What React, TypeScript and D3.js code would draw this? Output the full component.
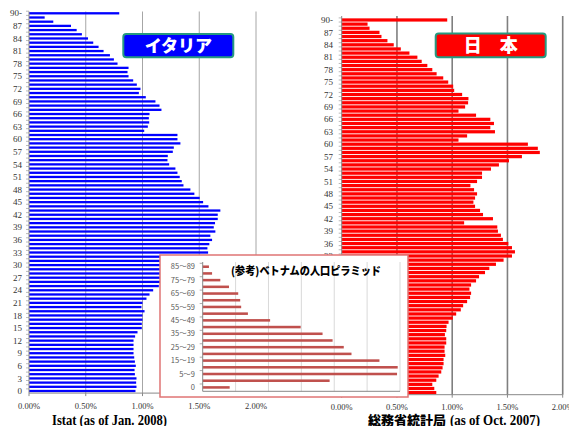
import React from 'react';
import * as d3 from 'd3';

// age rows, top (90-) to bottom (0)
const AGES = ['90-', ...d3.range(89, -1, -1).map(String)];

// share of total population by single year of age (%), 90- first
const ITALY = [
  0.795, 0.138, 0.214, 0.37, 0.42, 0.466, 0.52, 0.566, 0.613, 0.657,
  0.713, 0.748, 0.78, 0.877, 0.868, 0.877, 0.918, 0.95, 0.982, 0.968,
  1.029, 1.114, 1.15, 1.167, 1.062, 1.056, 1.059, 1.047, 1.015, 1.308,
  1.308, 1.334, 1.276, 1.267, 1.223, 1.22, 1.235, 1.29, 1.308, 1.328,
  1.346, 1.361, 1.422, 1.457, 1.504, 1.534, 1.581, 1.686, 1.663, 1.663,
  1.639, 1.628, 1.642, 1.598, 1.613, 1.589, 1.572, 1.578, 1.56, 1.52,
  1.47, 1.42, 1.36, 1.3, 1.22, 1.144, 1.094, 1.062, 1.035, 1.0,
  0.991, 1.018, 1.0, 1.0, 0.994, 0.994, 0.956, 0.935, 0.921, 0.921,
  0.921, 0.921, 0.927, 0.933, 0.941, 0.93, 0.933, 0.947, 0.944, 0.947,
  0.938,
];

const JAPAN = [
  0.955, 0.234, 0.252, 0.342, 0.36, 0.414, 0.471, 0.535, 0.613, 0.685,
  0.724, 0.775, 0.82, 0.859, 0.919, 0.964, 1.009, 1.018, 1.09, 1.147,
  1.144, 1.117, 1.057, 1.216, 1.345, 1.378, 1.345, 1.387, 1.135, 1.057,
  1.685, 1.775, 1.793, 1.631, 1.514, 1.423, 1.351, 1.27, 1.27, 1.225,
  1.165, 1.198, 1.225, 1.207, 1.192, 1.207, 1.252, 1.279, 1.369, 1.108,
  1.408, 1.414, 1.441, 1.459, 1.508, 1.541, 1.568, 1.541, 1.465, 1.396,
  1.336, 1.297, 1.243, 1.216, 1.171, 1.156, 1.171, 1.162, 1.135, 1.099,
  1.078, 1.036, 1.006, 0.967, 0.949, 0.946, 0.934, 0.946, 0.946, 0.931,
  0.931, 0.937, 0.922, 0.922, 0.913, 0.901, 0.877, 0.856, 0.82, 0.838,
  0.856,
];

const X_TICKS = [0, 0.5, 1, 1.5, 2];
const X_TICK_LABELS = ['0.00%', '0.50%', '1.00%', '1.50%', '2.00%'];

// inset: Vietnam, 5-year groups
const VN_GROUPS = [
  '85～89', '80～84', '75～79', '70～74', '65～69', '60～64', '55～59', '50～54',
  '45～49', '40～44', '35～39', '30～34', '25～29', '20～24', '15～19', '10～14',
  '5～9', '1～4', '0',
];
const VN_VALUES = [
  0.38, 0.57, 1.07, 1.6, 2.16, 2.28, 2.34, 2.75, 4.1, 5.96,
  7.29, 7.9, 8.58, 9.05, 10.75, 11.86, 11.82, 7.72, 1.64,
];
const VN_GRID = [2, 4, 6, 8, 10, 12];

const SERIF = "'Liberation Serif', 'Times New Roman', serif";
const JP = "'Noto Sans CJK JP', sans-serif";

const INSET = { x: 160, y: 255, w: 248, h: 142 };

interface PanelProps {
  values: number[];
  color: string;
  x0: number;
  x1: number;
  top: number;
  bottom: number;
  barPad: number;
  labelRight: number;
  gridColor: string;
  gridWidth: number;
  gridTop: number;
  tickLabelY: number;
}

function Panel({ values, color, x0, x1, top, bottom, barPad, labelRight, gridColor, gridWidth, gridTop, tickLabelY }: PanelProps) {
  const x = d3.scaleLinear().domain([0, 2]).range([x0, x1]);
  const y = d3.scaleBand<string>().domain(AGES).range([top, bottom]);
  const bw = y.bandwidth();
  // labels that sit under the inset box are not drawn
  const underInset = (lx: number, ly: number) =>
    lx > INSET.x && lx - 15 < INSET.x + INSET.w && ly > INSET.y + 3 && ly < INSET.y + INSET.h;

  return (
    <g>
      {X_TICKS.slice(1).map(t => (
        <line key={t} x1={x(t)} x2={x(t)} y1={gridTop} y2={bottom} stroke={gridColor} strokeWidth={gridWidth} />
      ))}
      {AGES.map((a, i) => (
        <rect key={a} x={x(0)} y={y(a)! + bw * barPad / 2} width={x(values[i]) - x(0)}
          height={bw * (1 - barPad)} fill={color} />
      ))}
      <line x1={x(0)} x2={x(0)} y1={gridTop} y2={bottom} stroke="#888" strokeWidth={1} />
      <line x1={x(0)} x2={x1} y1={bottom} y2={bottom} stroke="#888" strokeWidth={1} />
      {AGES.map(a => (
        <line key={a} x1={x(0) - 3} x2={x(0)} y1={y(a)!} y2={y(a)!} stroke="#888" strokeWidth={0.6} />
      ))}
      {AGES.filter((a, i) => i % 3 === 0 && !underInset(labelRight, y(a)! + bw / 2)).map(a => (
        <text key={a} x={labelRight} y={y(a)! + bw / 2} dy="0.35em" textAnchor="end"
          fontFamily={SERIF} fontSize={9} fill="#333">{a}</text>
      ))}
      {X_TICKS.map((t, i) => (
        <g key={t}>
          <line x1={x(t)} x2={x(t)} y1={bottom} y2={bottom + 3} stroke="#888" />
          <text x={x(t)} y={tickLabelY} dy="0.35em" textAnchor="middle" fontFamily={SERIF}
            fontSize={8.5} fill="#333">{X_TICK_LABELS[i]}</text>
        </g>
      ))}
    </g>
  );
}

function TitleBox({ x, y, w, h, fill, label, size }: { x: number; y: number; w: number; h: number; fill: string; label: string; size: number }) {
  return (
    <g>
      <rect x={x} y={y} width={w} height={h} rx={3} fill={fill} stroke="#259A80" strokeWidth={2} />
      <text x={x + w / 2} y={y + h / 2} dy="0.36em" textAnchor="middle" fontFamily={JP}
        fontWeight={900} fontSize={size} fill="#fff">{label}</text>
    </g>
  );
}

function Inset() {
  const x = d3.scaleLinear().domain([0, 12]).range([202.7, 400]);
  const y = d3.scaleBand<string>().domain(VN_GROUPS).range([263.3, 390.7]);
  const bw = y.bandwidth();
  const bottom = 391.3;
  return (
    <g>
      <rect x={INSET.x} y={INSET.y} width={INSET.w} height={INSET.h} fill="#fff" stroke="#E07474" strokeWidth={1.5} />
      {VN_GRID.map(g => (
        <line key={g} x1={x(g)} x2={x(g)} y1={262} y2={bottom} stroke="#D9D9D9" strokeWidth={1} />
      ))}
      <text x={231} y={271} dy="0.36em" fontFamily={JP} fontWeight={900} fontSize={11} fill="#000"
        textLength={150} lengthAdjust="spacingAndGlyphs">
        (参考)ベトナムの人口ピラミッド
      </text>
      {VN_GROUPS.map((g, i) => (
        <rect key={g} x={x(0)} y={y(g)! + bw * 0.32} width={x(VN_VALUES[i]) - x(0)} height={bw * 0.38} fill="#C0504D" />
      ))}
      <line x1={x(0)} x2={x(0)} y1={262} y2={bottom} stroke="#888" />
      <line x1={x(0)} x2={400} y1={bottom} y2={bottom} stroke="#888" />
      {VN_GROUPS.filter((_, i) => i % 2 === 0).map(g => (
        <g key={g}>
          <line x1={x(0) - 3} x2={x(0)} y1={y(g)!} y2={y(g)!} stroke="#888" strokeWidth={0.7} />
          <text x={195} y={y(g)! + bw / 2} dy="0.35em" textAnchor="end" fontFamily={JP}
            fontSize={7.5} fill="#595959">{g}</text>
        </g>
      ))}
    </g>
  );
}

export default function App() {
  return (
    <svg width={569} height={426} style={{ position: 'absolute', left: 0, top: 0, background: '#fff' }}>
      <rect width={569} height={426} fill="#fff" />
      <Panel values={ITALY} color="#0000FF" x0={29} x1={256} top={11.2} bottom={393.1} barPad={0.45}
        labelRight={22} gridColor="#A6A6A6" gridWidth={1} gridTop={11.5} tickLabelY={405.7} />
      <Panel values={JAPAN} color="#FF0000" x0={341.7} x1={562.7} top={17.9} bottom={394.7} barPad={0.22}
        labelRight={333} gridColor="#7F7F7F" gridWidth={1.6} gridTop={16} tickLabelY={406.7} />
      <TitleBox x={123.3} y={34} w={110} h={23.3} fill="#0000FF" label="イタリア" size={17} />
      <TitleBox x={435.7} y={33.5} w={110} h={23.8} fill="#FF0000" label="日　本" size={18} />
      <Inset />
      <text x={52} y={424.5} fontFamily={SERIF} fontWeight="bold" fontSize={14} textLength={115}
        lengthAdjust="spacingAndGlyphs" fill="#000">Istat (as of Jan. 2008)</text>
      <text x={368} y={424.5} fontFamily={JP} fontWeight={900} fontSize={13} fill="#000">総務省統計局</text>
      <text x={450} y={424.5} fontFamily={SERIF} fontWeight="bold" fontSize={14} textLength={90}
        lengthAdjust="spacingAndGlyphs" fill="#000">(as of Oct. 2007)</text>
    </svg>
  );
}
